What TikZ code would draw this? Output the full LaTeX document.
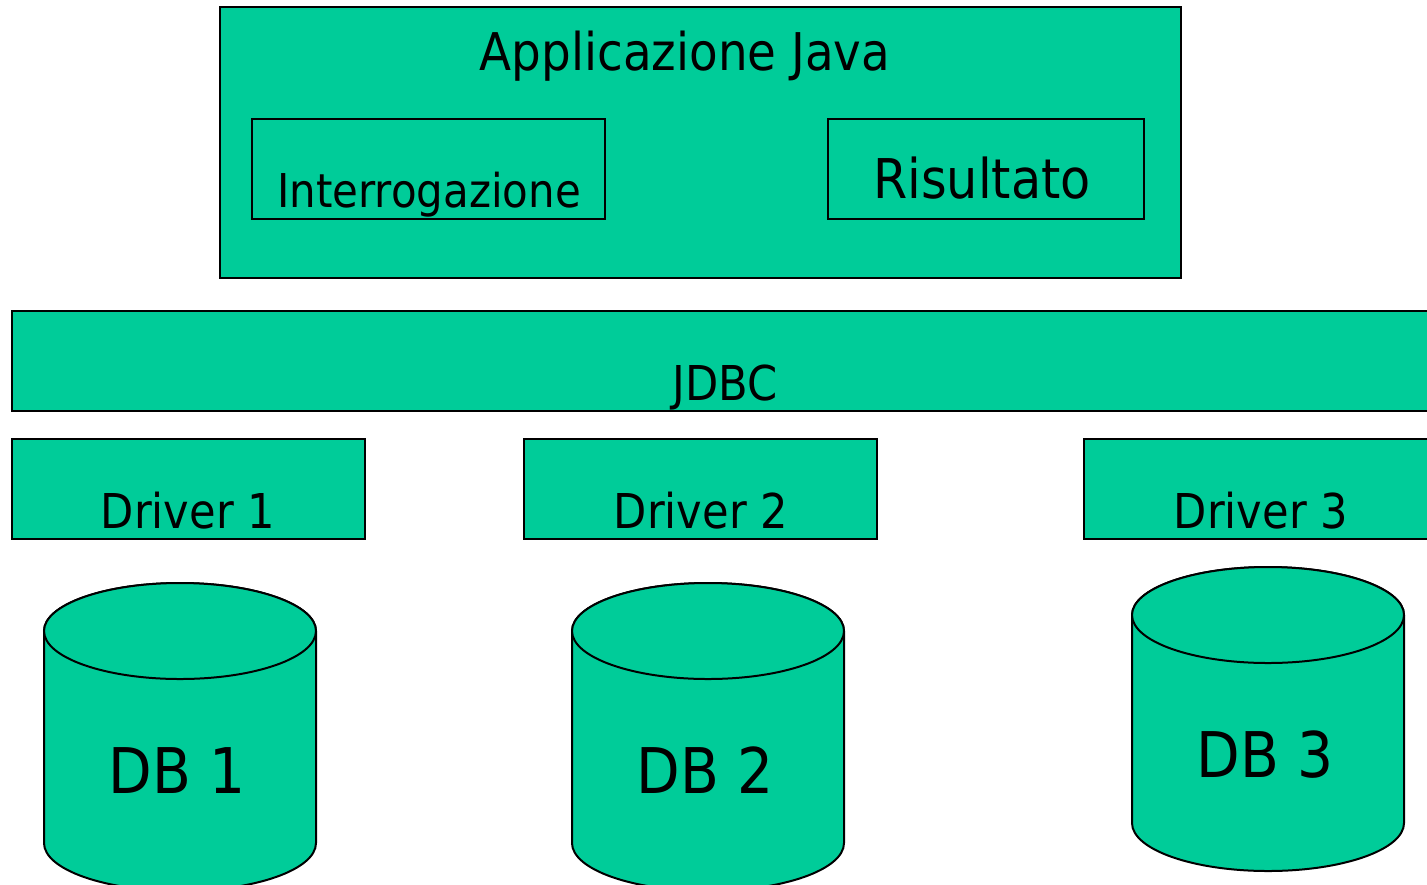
\documentclass[tikz,border=0pt]{standalone}
\definecolor{JGreen}{HTML}{00CC99}
\usepackage{xcolor}
\usepackage{fontspec}
\setmainfont{DejaVu Sans}[FakeStretch=0.9]
\usepackage{tikz}

\begin{document}
\begin{tikzpicture}[x=0.5pt,y=-0.5pt,
    box/.style={fill=JGreen,draw=black,line width=1pt},
    lbl/.style={anchor=base,inner sep=0pt,font=\fontsize{24}{28}\selectfont},
    dblbl/.style={anchor=base,inner sep=0pt,font=\fontsize{31.5}{36}\selectfont}]
  \useasboundingbox (0,0) rectangle (1427,884);
  \clip (0,0) rectangle (1427,884);

  % Applicazione Java
  \draw[box] (220,7) rectangle (1181,278);
  \node[lbl,font=\fontsize{26}{30}\selectfont] (app) at (685,70) {Applicazione Java};

  % Interrogazione
  \draw[box] (252,119) rectangle (605,219);
  \node[lbl,font=\fontsize{23.3}{28}\selectfont] (query) at (429,207) {Interrogazione};

  % Risultato
  \draw[box] (828,119) rectangle (1144,219);
  \node[lbl,font=\fontsize{27.4}{32}\selectfont] (result) at (982,198) {Risultato};

  % JDBC
  \draw[box] (12,311) rectangle (1440,411);
  \node[lbl] (jdbc) at (725,400) {JDBC};

  % Driver 1
  \draw[box] (12,439) rectangle (365,539);
  \node[lbl] (drv1) at (188,528) {Driver 1};

  % Driver 2
  \draw[box] (524,439) rectangle (877,539);
  \node[lbl] (drv2) at (701,528) {Driver 2};

  % Driver 3
  \draw[box] (1084,439) rectangle (1440,539);
  \node[lbl] (drv3) at (1261,528) {Driver 3};

  % DB 1
  \draw[box] (44,631) -- (44,843)
    arc[start angle=180,end angle=0,x radius=136,y radius=48] -- (316,631)
    arc[start angle=0,end angle=-180,x radius=136,y radius=48] -- cycle;
  \draw[box] (180,631) ellipse[x radius=136,y radius=48];
  \node[dblbl] (db1) at (177,793) {DB 1};

  % DB 2
  \draw[box] (572,631) -- (572,843)
    arc[start angle=180,end angle=0,x radius=136,y radius=48] -- (844,631)
    arc[start angle=0,end angle=-180,x radius=136,y radius=48] -- cycle;
  \draw[box] (708,631) ellipse[x radius=136,y radius=48];
  \node[dblbl] (db2) at (705,793) {DB 2};

  % DB 3
  \draw[box] (1132,615) -- (1132,823)
    arc[start angle=180,end angle=0,x radius=136,y radius=48] -- (1404,615)
    arc[start angle=0,end angle=-180,x radius=136,y radius=48] -- cycle;
  \draw[box] (1268,615) ellipse[x radius=136,y radius=48];
  \node[dblbl] (db3) at (1265,777) {DB 3};
\end{tikzpicture}
\end{document}
